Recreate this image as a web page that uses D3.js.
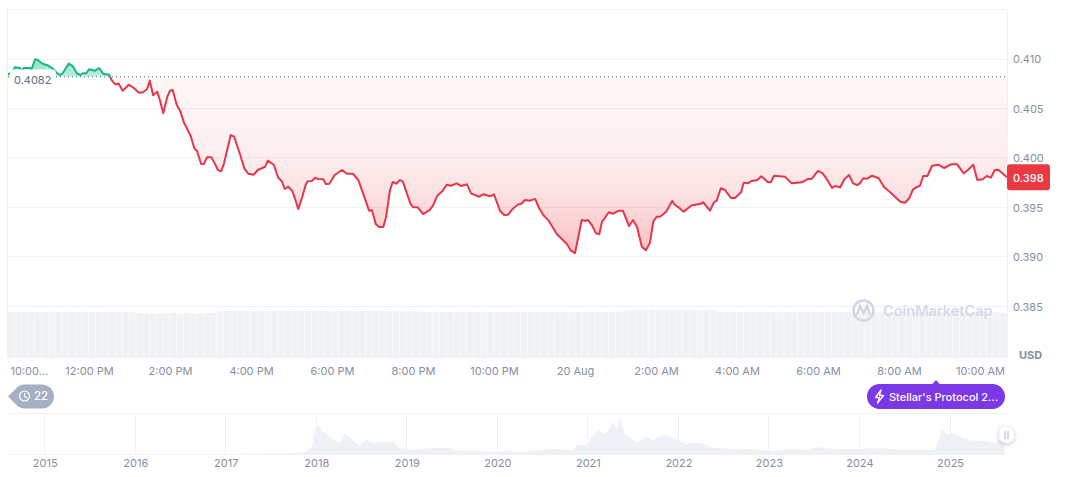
<!DOCTYPE html>
<html><head><meta charset="utf-8">
<script src="https://cdn.jsdelivr.net/npm/d3@7/dist/d3.min.js"></script>
<style>
html,body{margin:0;padding:0;background:#fff;overflow:hidden}
svg{display:block;font-family:Inter,"Noto Sans",sans-serif}
.tick text{font-family:Inter,"Noto Sans",sans-serif;font-size:11px;fill:#868f9f}
</style></head><body>
<svg id="c" width="1072" height="477"></svg>
<script>
// Minutes since 10:00 AM, 19 Aug
const minutes=[0,7,10,18,20,23,33,34,36,40,44,52,59,65,73,77,81,90,96,102,107,111,116,120,129,135,141,150,154,159,164,170,179,185,194,200,206,210,215,221,225,230,236,240,244,250,255,261,265,271,276,280,286,290,295,301,305,311,316,320,330,335,344,350,356,364,370,381,385,394,400,406,410,415,421,425,430,436,441,444,450,455,459,467,471,476,484,495,502,511,519,526,535,539,545,550,556,560,566,570,575,581,585,596,600,607,615,625,630,636,644,650,656,665,671,680,686,698,704,714,720,729,735,741,747,756,760,766,773,781,787,793,801,813,828,834,840,850,855,859,865,871,876,880,884,890,896,905,911,920,926,932,939,945,951,956,961,966,975,984,988,994,1001,1013,1025,1030,1040,1046,1050,1056,1062,1071,1077,1086,1090,1096,1102,1110,1116,1126,1130,1135,1151,1161,1176,1184,1191,1200,1207,1213,1221,1225,1233,1239,1246,1252,1258,1262,1267,1273,1280,1290,1298,1307,1314,1322,1329,1335,1341,1347,1351,1356,1362,1369,1378,1387,1397,1406,1416,1422,1430,1436,1444,1450,1456,1462,1467,1480];
const prices=[.40845,.40869,.40916,.40909,.40869,.40909,.40909,.40889,.40916,.40997,.4099,.40949,.40936,.40909,.40856,.40838,.40856,.40953,.40929,.40856,.40838,.40856,.40856,.40896,.40882,.40909,.40852,.40841,.40781,.40744,.4075,.4068,.4074,.40714,.4066,.40664,.40694,.40781,.40633,.4067,.40586,.40452,.40619,.4068,.40687,.40535,.40478,.4035,.403,.40215,.40098,.40071,.39942,.39939,.40007,.40007,.39963,.39879,.39866,.39946,.40232,.40215,.4003,.39896,.39841,.39831,.39879,.39912,.39973,.39929,.39805,.39761,.39687,.3971,.3967,.39593,.39485,.39609,.39727,.39765,.39768,.39801,.39788,.39785,.39737,.3974,.39828,.39879,.39841,.39841,.39778,.39643,.39468,.39475,.3933,.39303,.39303,.39401,.39677,.39758,.3974,.39778,.39761,.39542,.39502,.39502,.39434,.39475,.39525,.39619,.3967,.3973,.3972,.39744,.39717,.39734,.39643,.39609,.39633,.39613,.39633,.39465,.39424,.39427,.39482,.39532,.39535,.39576,.39569,.39586,.39492,.39424,.39367,.39232,.39131,.39064,.3904,.39374,.39364,.39374,.39323,.39239,.39229,.39357,.39391,.39452,.39437,.39468,.39468,.39313,.39374,.393,.39104,.39068,.39144,.39357,.39407,.39407,.39458,.39566,.39525,.39498,.39458,.39522,.39535,.39553,.39468,.39553,.39569,.39694,.39677,.39596,.39596,.39654,.39751,.39744,.39768,.39778,.39815,.39755,.39755,.39821,.39811,.39744,.39755,.39785,.39791,.39869,.39845,.39785,.39697,.39717,.39704,.39785,.39828,.39744,.39727,.39744,.39795,.39791,.39821,.39795,.39704,.39654,.39609,.39559,.39548,.39593,.39684,.3971,.39717,.39818,.39818,.39922,.39932,.39899,.39936,.39936,.39845,.39879,.39932,.39778,.39785,.39818,.39801,.39879,.39882,.39805];
const baseline=0.4082, lastPrice=0.398;
const priceTicks=[.385,.39,.395,.4,.405,.41];
const gridTicks=[.385,.39,.395,.4,.405,.41,.415];
const timeTicks=[0,120,240,360,480,600,720,840,960,1080,1200,1320,1440];
const timeLabels=["10:00...","12:00 PM","2:00 PM","4:00 PM","6:00 PM","8:00 PM","10:00 PM","20 Aug","2:00 AM","4:00 AM","6:00 AM","8:00 AM","10:00 AM"];
// 24h volume per 10-minute bucket, $M
const volumes=[443,445,442,444,441,443,446,442,444,443,441,445,442,440,443,444,441,442,439,432,429,431,428,430,433,429,431,427,430,432,434,450,453,451,455,452,449,454,451,453,456,452,450,454,452,455,451,453,449,452,454,450,453,451,455,452,450,453,449,451,448,445,442,444,441,443,440,442,445,441,439,443,441,444,440,442,439,443,445,441,442,440,444,441,443,439,442,445,441,443,447,458,461,463,460,464,462,465,461,463,466,462,460,463,459,448,442,440,443,441,439,442,444,440,441,443,439,442,440,444,441,439,442,440,443,441,438,442,440,443,439,441,444,440,442,439,441,443,440,438,442,440,443,441,439,442,440,436];
// Long-range navigator: decimal year and market cap, $B
const navYears=[2014.6,2015,2015.5,2016,2016.5,2017,2017.4,2017.78,2017.89,2017.95,2018,2018.03,2018.07,2018.13,2018.2,2018.26,2018.31,2018.39,2018.48,2018.55,2018.62,2018.74,2018.85,2018.91,2019.07,2019.25,2019.36,2019.47,2019.58,2019.8,2020,2020.11,2020.22,2020.39,2020.61,2020.83,2020.89,2020.99,2021.03,2021.12,2021.17,2021.22,2021.28,2021.32,2021.35,2021.41,2021.54,2021.65,2021.72,2021.85,2021.98,2022.09,2022.24,2022.38,2022.57,2022.79,2023.03,2023.22,2023.4,2023.56,2023.8,2024,2024.21,2024.5,2024.83,2024.88,2024.91,2024.97,2025.04,2025.13,2025.24,2025.39,2025.5,2025.6];
const navValues=[.01,.01,.01,.01,.02,.03,.1,.45,.9,3.16,12.95,12.64,10.24,8.71,6.18,5.1,9.48,6.63,3.93,6.45,4.96,5.42,5.73,3.16,1.8,2.71,2.71,2.71,1.35,1.22,1.04,1.49,.77,1.35,2.39,1.67,4.2,3.61,6.77,11.15,9.03,9.93,14.76,11.28,16.25,9.03,4.96,7.67,6.45,8.89,6.18,4.65,5.1,2.84,2.39,2.39,1.22,2.26,1.94,3.02,2.12,2.26,2.71,1.8,1.8,6.77,10.83,9.03,9.34,7.54,6,6,4.83,8.12];
const navTicks=[2015,2016,2017,2018,2019,2020,2021,2022,2023,2024,2025];

const svg=d3.select("#c");
const GRID="#eff2f5", MUTED="#868f9f", RED="#ea3943", LINE_RED="#e4384a", GREEN="#16c784", LINE_GREEN="#1ab584";
const x=d3.scaleLinear().domain([0,1480]).range([8,1007]);
const y=d3.scaleLinear().domain([.385,.415]).range([306.5,9.5]);
const vY=d3.scaleLinear().domain([0,500]).range([358,306]);
const nx=d3.scaleLinear().domain([2015,2025]).range([44.7,950]);
const ny=d3.scaleLinear().domain([0,18.5]).range([454,413]);
const pts=minutes.map((m,i)=>({m,p:prices[i]}));
const base=y(baseline);

// defs
const defs=svg.append("defs");
const gr=defs.append("linearGradient").attr("id","redFill").attr("gradientUnits","userSpaceOnUse").attr("x1",0).attr("x2",0).attr("y1",base).attr("y2",y(.39));
[[0,.04],[.4,.08],[.65,.15],[.85,.25],[1,.34]].forEach(([o,a])=>gr.append("stop").attr("offset",o).attr("stop-color",RED).attr("stop-opacity",a));
const gg=defs.append("linearGradient").attr("id","greenFill").attr("gradientUnits","userSpaceOnUse").attr("x1",0).attr("x2",0).attr("y1",y(.41)).attr("y2",base);
gg.append("stop").attr("offset",0).attr("stop-color",GREEN).attr("stop-opacity",.5);
gg.append("stop").attr("offset",1).attr("stop-color",GREEN).attr("stop-opacity",.28);
defs.append("clipPath").attr("id","above").append("rect").attr("x",0).attr("y",0).attr("width",1072).attr("height",base);
defs.append("clipPath").attr("id","below").append("rect").attr("x",0).attr("y",base).attr("width",1072).attr("height",477-base);
const sh=defs.append("filter").attr("id","sh").attr("x","-50%").attr("y","-50%").attr("width","200%").attr("height","200%");
sh.append("feDropShadow").attr("dx",0).attr("dy",1).attr("stdDeviation",2.5).attr("flood-color","#58667e").attr("flood-opacity",.4);

// grid
svg.append("g").selectAll("line").data(gridTicks).join("line")
  .attr("x1",7).attr("x2",1007).attr("y1",d=>Math.floor(y(d))+.5).attr("y2",d=>Math.floor(y(d))+.5).attr("stroke",GRID);
svg.append("line").attr("x1",7.5).attr("x2",7.5).attr("y1",10).attr("y2",358).attr("stroke",GRID);
svg.append("line").attr("x1",1007.5).attr("x2",1007.5).attr("y1",10).attr("y2",358).attr("stroke",GRID);

// volume
svg.append("g").selectAll("rect").data(volumes).join("rect")
  .attr("x",(d,i)=>x(i*10)).attr("width",6.2).attr("y",d=>vY(d)).attr("height",d=>vY(0)-vY(d)).attr("fill","#f0f2f6");

// fills and line
const area=d3.area().x(d=>x(d.m)).y0(base).y1(d=>y(d.p));
const line=d3.line().x(d=>x(d.m)).y(d=>y(d.p));
svg.append("path").datum(pts).attr("d",area).attr("fill","url(#redFill)").attr("clip-path","url(#below)");
svg.append("path").datum(pts).attr("d",area).attr("fill","url(#greenFill)").attr("clip-path","url(#above)");
svg.append("path").datum(pts).attr("d",line).attr("fill","none").attr("stroke",LINE_RED).attr("stroke-width",2).attr("stroke-linejoin","round").attr("clip-path","url(#below)");
svg.append("path").datum(pts).attr("d",line).attr("fill","none").attr("stroke",LINE_GREEN).attr("stroke-width",2).attr("stroke-linejoin","round").attr("clip-path","url(#above)");

// baseline & label
svg.append("line").attr("x1",x(0)).attr("x2",1007).attr("y1",base).attr("y2",base).attr("stroke","#58667e").attr("stroke-width",1).attr("stroke-dasharray","1 3");
svg.append("rect").attr("x",10).attr("y",69.5).attr("width",46).attr("height",18).attr("rx",4).attr("fill","#fff");
svg.append("text").attr("x",14).attr("y",83.5).attr("font-size",11).attr("fill","#616e85").text(d3.format(".4f")(baseline));

// axes
const yAxis=d3.axisRight(y).tickValues(priceTicks).tickSize(0).tickPadding(0).tickFormat(d3.format(".3f"));
const yg=svg.append("g").attr("transform","translate(1013,0)").call(yAxis);
yg.select(".domain").remove();
const tAxis=d3.axisBottom(x).tickValues(timeTicks).tickSize(0).tickPadding(0).tickFormat((d,i)=>timeLabels[i]);
const tg=svg.append("g").attr("transform","translate(0,367)").call(tAxis);
tg.select(".domain").remove();
tg.select(".tick text").attr("text-anchor","start").attr("dx",2);
svg.append("text").attr("x",1019).attr("y",359).attr("font-size",11).attr("font-weight",700).attr("fill",MUTED).text("USD");

// last price tag
svg.append("rect").attr("x",1007).attr("y",y(lastPrice)-13.5).attr("width",43).attr("height",26).attr("rx",3).attr("fill",RED);
svg.append("text").attr("x",1013).attr("y",y(lastPrice)+4).attr("font-size",11).attr("font-weight",500).attr("fill","#fff").text(d3.format(".3f")(lastPrice));

// watermark
const wm=svg.append("g").attr("fill","none").attr("stroke","#cfd6e4").attr("stroke-width",2.4);
wm.append("circle").attr("cx",863.5).attr("cy",310.5).attr("r",10);
wm.append("path").attr("d","M857 315 L860 306 L863.5 313 L867 306 L870 315");
svg.append("text").attr("x",883).attr("y",316).attr("font-size",14.5).attr("font-weight",600).attr("fill","#d5dbe6").text("CoinMarketCap");

// history pill
const pill=svg.append("g");
pill.append("path").attr("d","M8 396.5 L18 386.5 Q21 384.5 24 384.5 L42 384.5 A12 12 0 0 1 42 408.5 L24 408.5 Q21 408.5 18 406.5 Z").attr("fill","#a6b0c3");
pill.append("circle").attr("cx",24.5).attr("cy",396).attr("r",5).attr("fill","none").attr("stroke","#fff").attr("stroke-width",1.2);
pill.append("path").attr("d","M24.5 393 V396.5 L27 398").attr("fill","none").attr("stroke","#fff").attr("stroke-width",1.1);
pill.append("text").attr("x",34).attr("y",400).attr("font-size",11.5).attr("font-weight",500).attr("fill","#fff").text("22");

// news pill
const news=svg.append("g");
news.append("path").attr("d","M932 384.5 L936 380 L940 384.5 Z").attr("fill","#7b38e6");
news.append("rect").attr("x",867).attr("y",384).attr("width",138).attr("height",25).attr("rx",12.5).attr("fill","#7b38e6");
news.append("path").attr("d","M881 390 L875.5 397.5 H879.5 L877.5 403 L883.5 395.5 H879.5 Z").attr("fill","none").attr("stroke","#fff").attr("stroke-width",1.3).attr("stroke-linejoin","round");
news.append("text").attr("x",889).attr("y",400.5).attr("font-size",11).attr("font-weight",500).attr("fill","#fff").text("Stellar's Protocol 2...");

// navigator
svg.append("line").attr("x1",8).attr("x2",1006).attr("y1",413.5).attr("y2",413.5).attr("stroke",GRID);
svg.append("g").selectAll("line").data(navTicks).join("line")
  .attr("x1",d=>Math.floor(nx(d))+.5).attr("x2",d=>Math.floor(nx(d))+.5).attr("y1",414).attr("y2",454).attr("stroke",GRID);
svg.append("path").datum(navYears.map((t,i)=>({t,v:navValues[i]})))
  .attr("d",d3.area().x(d=>nx(d.t)).y0(ny(0)).y1(d=>ny(d.v))).attr("fill","#eef1f5");
svg.append("line").attr("x1",8).attr("x2",1006).attr("y1",454.5).attr("y2",454.5).attr("stroke",GRID);
const nAxis=d3.axisBottom(nx).tickValues(navTicks).tickSize(0).tickPadding(0).tickFormat(d3.format("d"));
const ng=svg.append("g").attr("transform","translate(0,459)").call(nAxis);
ng.select(".domain").remove();

// handle
const h=svg.append("g");
h.append("rect").attr("x",999).attr("y",427).attr("width",15).attr("height",16).attr("rx",7).attr("fill","#fff").attr("filter","url(#sh)");
h.append("line").attr("x1",1005).attr("x2",1005).attr("y1",431).attr("y2",439).attr("stroke","#a6b0c3");
h.append("line").attr("x1",1008).attr("x2",1008).attr("y1",431).attr("y2",439).attr("stroke","#a6b0c3");
</script>
</body></html>
